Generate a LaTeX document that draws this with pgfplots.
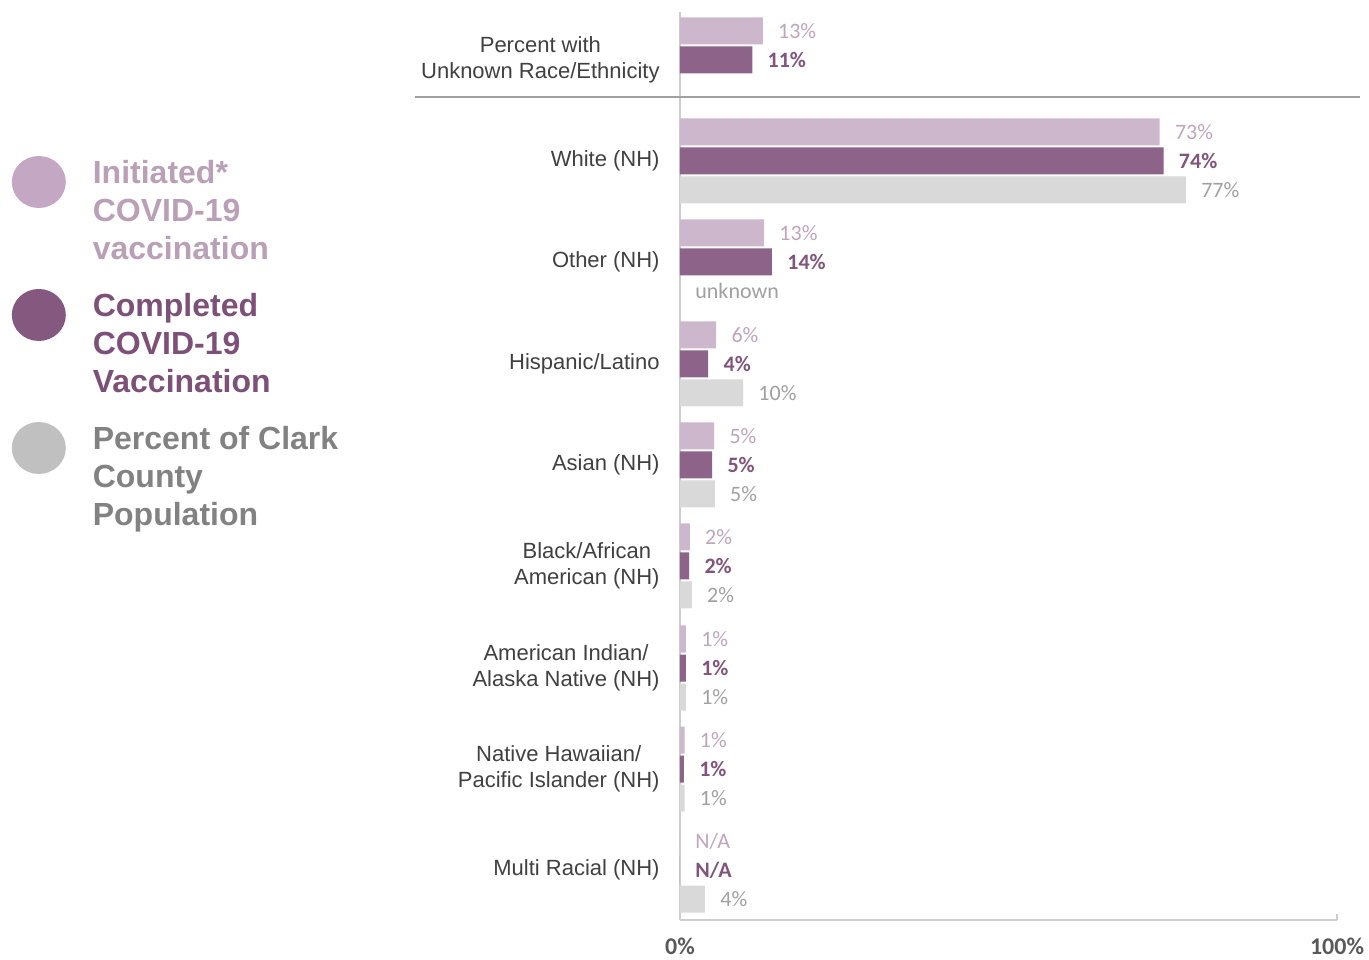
\documentclass[border=0pt]{standalone}
\usepackage{pgfplots}
\pgfplotsset{compat=1.18}
\usepackage{fontspec}
\setmainfont{Liberation Sans}
\newfontfamily\carlito{Carlito}
\definecolor{initc}{RGB}{205,183,204}
\definecolor{compc}{RGB}{141,99,137}
\definecolor{popc}{RGB}{217,217,217}
\definecolor{initt}{RGB}{190,165,188}
\definecolor{compt}{RGB}{128,84,123}
\definecolor{popt}{RGB}{160,160,160}
\definecolor{initl}{RGB}{196,167,194}
\definecolor{compl}{RGB}{133,88,128}
\definecolor{popl}{RGB}{192,192,192}
\definecolor{initlt}{RGB}{185,160,183}
\definecolor{complt}{RGB}{125,80,120}
\definecolor{poplt}{RGB}{130,130,130}
\definecolor{catgray}{RGB}{64,64,64}
\definecolor{axisc}{RGB}{205,205,205}
\definecolor{sepc}{RGB}{160,160,160}
\definecolor{labgray}{RGB}{89,89,89}
\begin{document}
\begin{tikzpicture}
\begin{axis}[
  xbar, bar shift=0pt, bar width=27,
  scale only axis, width=328.5pt, height=454pt,
  xmin=0, xmax=100, ymin=39, ymax=947,
  clip=false,
  axis x line=bottom, axis y line=left, axis line style={-},
  x axis line style={draw=axisc, line width=0.9pt},
  y axis line style={draw=axisc, line width=0.9pt},
  xtick={0,100}, xticklabels={0\%,100\%},
  xticklabel style={font=\carlito\bfseries\fontsize{12}{14}\selectfont, text=labgray, inner sep=0pt, yshift=-9pt},
  tick align=inside, major tick length=3pt, xtick style={draw=axisc, line width=0.9pt},
  ytick={89,190,291,393,494,595,697,798,899},
  yticklabels={Multi Racial (NH),
    {Native Hawaiian/\\Pacific Islander (NH)},
    {American Indian/\\Alaska Native (NH)},
    {Black/African\\American (NH)},
    Asian (NH), Hispanic/Latino, Other (NH), White (NH),
    {Percent with\\Unknown Race/Ethnicity}},
  ytick style={draw=none},
  yticklabel style={align=center, font=\fontsize{11}{13}\selectfont, text=catgray, inner sep=0pt, anchor=east, xshift=-10pt},
  legend cell align=left,
  legend style={draw=none, fill=none, inner sep=0pt, outer sep=0pt,
    at={(axis cs:-101.7,803)}, anchor=north west,
    row sep=40.5pt, column sep=13.5pt,
    nodes={inner sep=0pt},
    font=\bfseries\fontsize{16}{19}\selectfont},
]
\addplot[fill=initc, draw=none, nodes near coords, point meta=explicit symbolic,
  every node near coord/.append style={anchor=west, inner sep=0pt, xshift=7.5pt, text=initt, font=\carlito\fontsize{11}{13}\selectfont},
  legend image code/.code={\fill[initl] (13.5pt,-5pt) ellipse [x radius=13.5pt, y radius=13pt];}]
  coordinates {(12.6,928) [13\%] (73.0,827) [73\%] (12.8,726) [13\%] (5.5,624) [6\%] (5.2,523) [5\%] (1.5,422) [2\%] (0.9,320) [1\%] (0.7,219) [1\%] (0,118) [N/A]};
\addlegendentry{\color{initlt}\begin{tabular}[t]{@{}l@{}}Initiated*\\COVID-19\\vaccination\end{tabular}}
\addplot[fill=compc, draw=none, nodes near coords, point meta=explicit symbolic,
  every node near coord/.append style={anchor=west, inner sep=0pt, xshift=7.5pt, text=compt, font=\carlito\bfseries\fontsize{11}{13}\selectfont},
  legend image code/.code={\fill[compl] (13.5pt,-5pt) ellipse [x radius=13.5pt, y radius=13pt];}]
  coordinates {(11.0,899) [11\%] (73.6,798) [74\%] (14.0,697) [14\%] (4.3,595) [4\%] (4.9,494) [5\%] (1.4,393) [2\%] (0.9,291) [1\%] (0.6,190) [1\%] (0,89) [N/A]};
\addlegendentry{\color{complt}\begin{tabular}[t]{@{}l@{}}Completed\\COVID-19\\Vaccination\end{tabular}}
\addplot[fill=popc, draw=none, nodes near coords, point meta=explicit symbolic,
  every node near coord/.append style={anchor=west, inner sep=0pt, xshift=7.5pt, text=popt, font=\carlito\fontsize{11}{13}\selectfont},
  legend image code/.code={\fill[popl] (13.5pt,-5pt) ellipse [x radius=13.5pt, y radius=13pt];}]
  coordinates {(77.0,769) [77\%] (0,668) [unknown] (9.6,566) [10\%] (5.3,465) [5\%] (1.8,364) [2\%] (0.9,262) [1\%] (0.7,161) [1\%] (3.8,60) [4\%]};
\addlegendentry{\color{poplt}\begin{tabular}[t]{@{}l@{}}Percent of Clark\\County\\Population\end{tabular}}
\addplot[sharp plot, forget plot, no marks, draw=sepc, line width=1pt] coordinates {(-40.3,862) (103.5,862)};
\path (axis cs:-103.5,0) rectangle (axis cs:104.87,959);
\end{axis}
\end{tikzpicture}
\end{document}
